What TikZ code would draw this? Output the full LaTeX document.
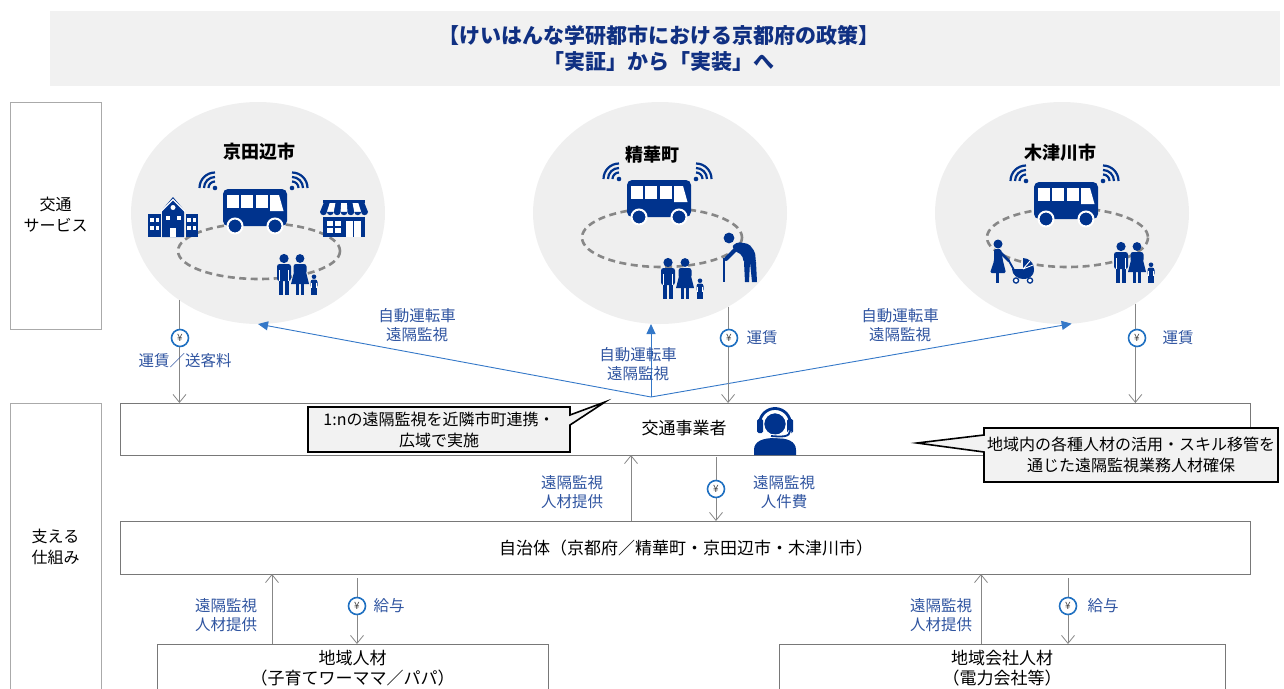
\documentclass[tikz,border=0pt]{standalone}
\usepackage{fontspec}
\setmainfont{Noto Sans CJK JP}
\usetikzlibrary{arrows.meta,shapes.geometric}

\definecolor{navy}{RGB}{0,51,141}
\definecolor{titleblue}{RGB}{16,48,130}
\definecolor{labelblue}{RGB}{47,84,160}
\definecolor{linkblue}{RGB}{52,120,200}
\definecolor{yenblue}{RGB}{31,112,193}
\definecolor{bandgray}{RGB}{241,241,241}
\definecolor{discgray}{RGB}{239,239,239}
\definecolor{dashgray}{RGB}{135,135,135}
\definecolor{linkgray}{RGB}{135,135,135}
\definecolor{framegray}{RGB}{120,120,120}
\definecolor{sidegray}{RGB}{170,170,170}
\definecolor{notefill}{RGB}{242,242,242}

\tikzset{
  rowbox/.style={draw=framegray, line width=0.9pt, fill=white, inner sep=0pt, outer sep=0pt},
  boxtext/.style={font=\fontsize{17}{20}\selectfont, align=center, inner sep=0pt},
  sidebox/.style={draw=sidegray, line width=0.9pt, inner sep=0pt, outer sep=0pt, minimum width=91pt},
  sidetext/.style={font=\fontsize{16}{21}\selectfont, align=center, inner sep=0pt},
  disc/.style={ellipse, fill=discgray, inner sep=0pt, outer sep=0pt, minimum width=254pt, minimum height=222pt},
  route/.style={draw=dashgray, line width=2.6pt, dash pattern=on 7pt off 4.5pt},
  cityname/.style={font=\bfseries\fontsize{18}{20}\selectfont, inner sep=0pt},
  graylink/.style={draw=linkgray, line width=0.8pt, -{Straight Barb[length=8pt,width=13pt]}},
  bluelink/.style={draw=linkblue, line width=0.9pt, -{Triangle[length=10pt,width=9pt]}},
  yen/.style={circle, draw=yenblue, line width=1.6pt, fill=white, inner sep=0pt, minimum size=17pt, text=black!75, font=\fontsize{10}{10}\selectfont},
  flowlabel/.style={text=labelblue, font=\fontsize{15.5}{19.5}\selectfont, align=center, inner sep=0pt},
  note/.style={draw=black, line width=1.6pt, fill=notefill, line join=miter},
  notetext/.style={font=\fontsize{16}{21}\selectfont, align=center, inner sep=0pt},
  % minibus with signal waves, origin at top centre of the body
  bus/.pic={
    \fill[navy, rounded corners=5pt] (-32,0) rectangle (32,37);
    \fill[white] (-28.5,6) rectangle (-16.5,19);
    \fill[white] (-14,6) rectangle (-2,19);
    \fill[white] (0.5,6) rectangle (12.5,19);
    \fill[white] (15,6) -- (24,6) -- (28.5,22) -- (15,22) -- cycle;
    \filldraw[navy, draw=white, line width=2pt] (-20,37) circle (7.5);
    \filldraw[navy, draw=white, line width=2pt] (20,37) circle (7.5);
    \fill[navy] (-40,-1) circle (2.3);
    \foreach \r in {6.5,11,15.5}
      \draw[navy, line width=2.2pt] (-40,-1) ++(180:\r) arc[start angle=180, end angle=270, radius=\r];
    \fill[navy] (37,-1) circle (2.3);
    \foreach \r in {6.5,11,15.5}
      \draw[navy, line width=2.2pt] (37,-1) ++(270:\r) arc[start angle=270, end angle=360, radius=\r];
  },
  % school building, origin at bottom centre
  schoolhouse/.pic={
    \fill[navy] (-11,0) -- (-11,-27) -- (0,-40) -- (11,-27) -- (11,0) -- cycle;
    \draw[white, line width=1.2pt] (-12,-25.5) -- (0,-37.5) -- (12,-25.5);
    \fill[navy] (-25,0) rectangle (-12.5,-23);
    \fill[navy] (12.5,0) rectangle (25,-23);
    \foreach \sx in {-1,1} {
      \fill[white] (\sx*23,-19) rectangle (\sx*19.5,-15.5);
      \fill[white] (\sx*17.5,-19) rectangle (\sx*14,-15.5);
      \fill[white] (\sx*23,-11) rectangle (\sx*19.5,-7.5);
      \fill[white] (\sx*17.5,-11) rectangle (\sx*14,-7.5);
      \fill[white] (\sx*7.5,-21) rectangle (\sx*3.5,-17);
    }
    \fill[white] (0,-29.5) circle (2.5);
    \fill[white] (-3,0) rectangle (3,-9);
  },
  % shop with striped awning, origin at bottom centre
  shopfront/.pic={
    \fill[navy] (-21,-37) rectangle (21,-34);
    \fill[navy] (-20,-35) -- (20,-35) -- (24,-25) -- (-24,-25) -- cycle;
    \foreach \k in {1,3,5}
      \fill[white] ({-20+40*\k/7},-34) -- ({-20+40*(\k+1)/7},-34) -- ({-24+48*(\k+1)/7},-25) -- ({-24+48*\k/7},-25) -- cycle;
    \foreach \k in {0,...,6}
      \fill[navy] ({-24+48*\k/7},-25.2) arc[start angle=180, end angle=0, radius=24/7];
    \fill[navy] (-21,-20) rectangle (21,0);
    \fill[white] (-17,-16) rectangle (-3,-4);
    \draw[navy, line width=1.2pt] (-10,-16) -- (-10,-4) (-17,-10) -- (-3,-10);
    \fill[white] (2,-16) rectangle (17,0);
    \draw[navy, line width=1.2pt] (9.5,-16) -- (9.5,0);
  },
  % standing man, origin between the feet
  manfig/.pic={
    \fill[navy] (0,-36.5) circle (4.6);
    \fill[navy, rounded corners=2.5pt] (-7,-31) rectangle (7,-14);
    \fill[navy] (-5.2,-16) rectangle (-0.6,0);
    \fill[navy] (0.6,-16) rectangle (5.2,0);
    \draw[white, line width=0.9pt] (-4.6,-25) -- (-4.6,-14.5) (4.6,-25) -- (4.6,-14.5);
  },
  % standing woman, origin between the feet
  womanfig/.pic={
    \fill[navy] (0,-36.5) circle (4.4);
    \fill[navy, rounded corners=2.5pt] (-6.5,-31) rectangle (6.5,-21);
    \fill[navy] (-6,-23) -- (6,-23) -- (9,-11) -- (-9,-11) -- cycle;
    \fill[navy] (-4.2,-12) rectangle (-0.8,0);
    \fill[navy] (0.8,-12) rectangle (4.2,0);
  },
  % elderly person with a cane, origin between the feet
  elderfig/.pic={
    \fill[navy] (-16,-44) circle (5.4);
    \fill[navy, rounded corners=2pt] (-13,-36) -- (-7,-40) -- (4,-38) -- (10,-30) -- (11,-19) -- (-1,-19) -- (-3,-27) -- (-10,-31) -- cycle;
    \fill[navy] (-1,-20) -- (5,-20) -- (4,0) -- (0,0) -- cycle;
    \fill[navy] (5,-20) -- (11,-20) -- (12,0) -- (7,0) -- cycle;
    \draw[navy, line width=4pt, line cap=round] (-9,-33) -- (-19,-23);
    \draw[navy, line width=1.6pt] (-21,-24) -- (-21,0);
  },
  % parent pushing a pram, origin between the parent's feet
  strollerfig/.pic={
    \fill[navy] (-2,-39) circle (4.5);
    \fill[navy, rounded corners=1.5pt] (-6,-34) -- (1,-34) -- (3,-22) -- (6,-10) -- (-10,-10) -- (-6,-22) -- cycle;
    \fill[navy] (-4.5,-11) rectangle (-1.5,0);
    \draw[navy, line width=2.5pt, line cap=round] (0,-31) -- (9,-22);
    \draw[navy, line width=1.8pt] (9,-22) -- (14,-13);
    \fill[navy] (12,-14) -- (34,-14) .. controls (34,-5) and (27,-4) .. (23,-4) .. controls (18,-4) and (12,-8) .. (12,-14) -- cycle;
    \fill[navy] (23,-14) -- (23,-25) arc[start angle=270, end angle=360, radius=11] -- cycle;
    \draw[white, line width=0.9pt] (23,-14) -- (30,-22) (23,-14) -- (33,-18);
    \draw[navy, line width=1.3pt, fill=white] (16,-2.5) circle (2.6);
    \draw[navy, line width=1.3pt, fill=white] (30,-2.5) circle (2.6);
  },
}

\begin{document}
\begin{tikzpicture}[x=1pt, y=-1pt]
\useasboundingbox (0,0) rectangle (1284,688);

% title band
\node[fill=bandgray, inner sep=0pt, minimum width=1230pt, minimum height=75pt] (band) at (665,48.5) {};
\node[text=titleblue, font=\bfseries\fontsize{21}{26}\selectfont, align=center, inner sep=0pt] (title) at (659,48)
  {【けいはんな学研都市における京都府の政策】\\「実証」から「実装」へ};

% row headings
\node[sidebox, minimum height=227pt] (svc) at (55.5,215.5) {};
\node[sidetext] (svctext) at (55.5,215) {交通\\サービス};
\node[sidebox, minimum height=288pt] (sup) at (55.5,547) {};
\node[sidetext] (suptext) at (55.5,547) {支える\\仕組み};

% municipalities
\node[disc] (c1) at (258,213) {};
\node[disc] (c2) at (660,213) {};
\node[disc] (c3) at (1062,213) {};
\draw[route] (259,251) ellipse[x radius=81, y radius=28];
\draw[route] (662,237.5) ellipse[x radius=80, y radius=29.5];
\draw[route] (1067.5,237.5) ellipse[x radius=80.5, y radius=29.5];
\node[cityname] (n1) at (259,152) {京田辺市};
\node[cityname] (n2) at (652,155) {精華町};
\node[cityname] (n3) at (1060,153) {木津川市};

\pic at (255,189) {bus};
\pic at (659,180) {bus};
\pic at (1066,182) {bus};
\pic at (173,237) {schoolhouse};
\pic at (344,237) {shopfront};
\pic at (284,295) {manfig};
\pic at (300,295) {womanfig};
\pic[scale=0.5] at (314,295) {manfig};
\pic at (668,299) {manfig};
\pic at (685,299) {womanfig};
\pic[scale=0.5] at (700,299) {manfig};
\pic at (745,282) {elderfig};
\pic at (1000,283) {strollerfig};
\pic at (1121,283) {manfig};
\pic at (1137,283) {womanfig};
\pic[scale=0.5] at (1151,283) {manfig};

% operator and municipality rows
\node[rowbox, minimum width=1130pt, minimum height=52pt] (ops) at (685,429) {};
\node[boxtext] (opstext) at (684,428) {交通事業者};
\node[rowbox, minimum width=1130pt, minimum height=53pt] (gov) at (685,547.5) {};
\node[boxtext] (govtext) at (686,548) {自治体（京都府／精華町・京田辺市・木津川市）};
\node[rowbox, minimum width=391pt, minimum height=60pt, anchor=north] (kid) at (352.5,644) {};
\node[boxtext] (kidtext) at (352.5,668) {地域人材\\（子育てワーママ／パパ）};
\node[rowbox, minimum width=446pt, minimum height=60pt, anchor=north] (firm) at (1002,644) {};
\node[boxtext] (firmtext) at (1002,668) {地域会社人材\\（電力会社等）};

% operator pictogram
\fill[navy] (754,455) -- (754,450) .. controls (754,441) and (763,438) .. (775,438) .. controls (787,438) and (796,441) .. (796,450) -- (796,455) -- cycle;
\draw[navy, line width=2.8pt] (775,424) ++(160:15.5) arc[start angle=160, end angle=380, radius=15.5];
\filldraw[navy, draw=white, line width=1.5pt] (775,424) circle (11.5);
\fill[navy, rounded corners=1.5pt] (757,419) rectangle (763,433);
\fill[navy, rounded corners=1.5pt] (787,419) rectangle (793,433);
\draw[white, line width=3.6pt] (790,431) .. controls (790,437) and (782,437) .. (771,436);
\draw[navy, line width=1.8pt] (790,431) .. controls (790,437) and (782,437) .. (771,436);

% remote supervision links
\coordinate (hub) at (651,397);
\draw[bluelink] (hub) -- (c1.south);
\draw[bluelink] (hub) -- (hub |- c2.south);
\draw[bluelink] (hub) -- (c3.275);
\node[flowlabel] (b1) at (417,325) {自動運転車\\遠隔監視};
\node[flowlabel] (b2) at (638,364) {自動運転車\\遠隔監視};
\node[flowlabel] (b3) at (900,325) {自動運転車\\遠隔監視};

% fares
\draw[graylink] (c1.228) -- (c1.228 |- ops.north);
\draw[graylink] (c2.306.6) -- (c2.306.6 |- ops.north);
\draw[graylink] (c3.309.9) -- (c3.309.9 |- ops.north);
\node[yen] (y1) at (180,338) {¥};
\node[yen] (y2) at (729,338) {¥};
\node[yen] (y3) at (1137,338) {¥};
\node[flowlabel] (f1) at (185,361) {運賃／送客料};
\node[flowlabel] (f2) at (762,338) {運賃};
\node[flowlabel] (f3) at (1178,338) {運賃};

% operator <-> municipality
\coordinate (xa) at (631,0);
\coordinate (xb) at (716,0);
\draw[graylink] (gov.north -| xa) -- (ops.south -| xa);
\draw[graylink, shorten <=2pt] (ops.south -| xb) -- (gov.north -| xb);
\node[yen] (y4) at (716,489) {¥};
\node[flowlabel] (m1) at (572,492) {遠隔監視\\人材提供};
\node[flowlabel] (m2) at (784,492) {遠隔監視\\人件費};

% municipality <-> local staff
\coordinate (xc) at (272,0);
\coordinate (xd) at (357,0);
\coordinate (xe) at (981,0);
\coordinate (xf) at (1068,0);
\draw[graylink] (kid.north -| xc) -- (gov.south -| xc);
\draw[graylink, shorten <=4pt] (gov.south -| xd) -- (kid.north -| xd);
\draw[graylink] (firm.north -| xe) -- (gov.south -| xe);
\draw[graylink, shorten <=4pt] (gov.south -| xf) -- (firm.north -| xf);
\node[yen] (y5) at (357,606) {¥};
\node[yen] (y6) at (1068,606) {¥};
\node[flowlabel] (s1) at (226,615) {遠隔監視\\人材提供};
\node[flowlabel] (s2) at (389,606) {給与};
\node[flowlabel] (s3) at (941,615) {遠隔監視\\人材提供};
\node[flowlabel] (s4) at (1103,606) {給与};

% callouts
\filldraw[note] (308,407) -- (570,407) -- (570,415) -- (605,402) -- (570,425) -- (570,452) -- (308,452) -- cycle;
\node[notetext] (note1) at (439,430) {1:nの遠隔監視を近隣市町連携・\\広域で実施};
\filldraw[note] (984,428) -- (1278,428) -- (1278,482) -- (984,482) -- (984,452) -- (917,443) -- (984,435) -- cycle;
\node[notetext] (note2) at (1131,455) {地域内の各種人材の活用・スキル移管を\\通じた遠隔監視業務人材確保};
\end{tikzpicture}
\end{document}
